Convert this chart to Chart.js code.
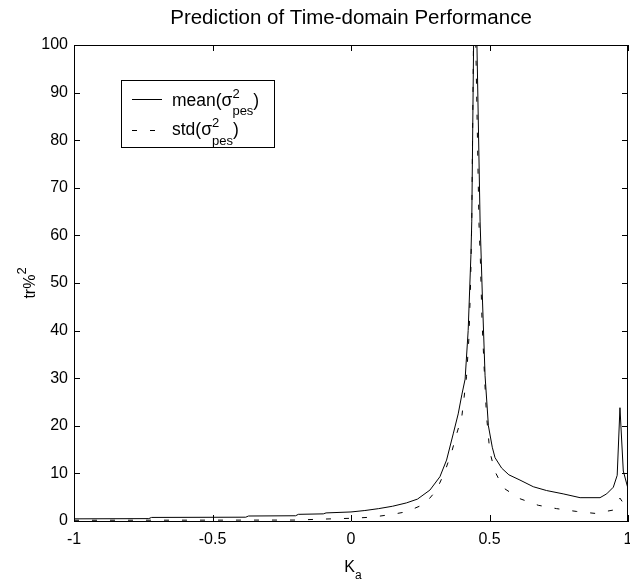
<!DOCTYPE html>
<html>
<head>
<meta charset="utf-8">
<script src="https://cdn.jsdelivr.net/npm/chart.js@4.4.0/dist/chart.umd.min.js"></script>
<style>
  html, body { margin: 0; padding: 0; background: #fff; }
  #wrap { width: 630px; height: 584px; }
</style>
</head>
<body>
<div id="wrap"><canvas id="chart" width="630" height="584"></canvas></div>
<script>
// values
const kMean = [-1, -0.73, -0.72, -0.38, -0.37, -0.2, -0.19, -0.1, -0.09, 0, 0.05, 0.1, 0.15, 0.2, 0.24, 0.285, 0.321, 0.345, 0.369, 0.387, 0.40, 0.412, 0.423, 0.433, 0.436, 0.447, 0.466, 0.475, 0.484, 0.496, 0.51, 0.52, 0.544, 0.57, 0.61, 0.658, 0.706, 0.766, 0.827, 0.899, 0.923, 0.947, 0.961, 0.971, 0.983, 1.0];
const meanVals = [0.45, 0.5, 0.75, 0.8, 1.05, 1.1, 1.4, 1.5, 1.7, 1.9, 2.2, 2.6, 3.1, 3.8, 4.6, 6.5, 9.3, 12.8, 18.3, 22.5, 26.5, 29.8, 40, 56, 63, 125, 63, 45.8, 30.5, 20, 15.5, 13.3, 11.1, 9.7, 8.6, 7.2, 6.4, 5.7, 4.9, 4.9, 5.7, 7.1, 9.6, 23.8, 10.5, 6.8];

const kStd = [-1, -0.2, -0.1, 0, 0.069, 0.1, 0.15, 0.201, 0.267, 0.309, 0.339, 0.364, 0.382, 0.40, 0.417, 0.426, 0.432, 0.436, 0.445, 0.462, 0.467, 0.473, 0.483, 0.489, 0.501, 0.519, 0.549, 0.609, 0.676, 0.742, 0.815, 0.881, 0.947, 0.971, 0.986, 1.0];
const stdVals = [0.15, 0.2, 0.4, 0.57, 0.78, 1.0, 1.4, 1.95, 3.6, 6.5, 10.4, 14.6, 18.4, 21.9, 30.3, 38.7, 50.6, 63.2, 118, 62.5, 55, 42, 29.3, 22.3, 14.6, 10.5, 7.0, 4.7, 3.3, 2.6, 2.0, 1.6, 2.3, 4.8, 3.5, 2.5];

const xTicks = [-1, -0.5, 0, 0.5, 1];
const yTicks = [0, 10, 20, 30, 40, 50, 60, 70, 80, 90, 100];

const FONT = '"Liberation Sans", Arial, sans-serif';

// text with super/subscript pieces (sup and sub stacked at the same x)
function richText(ctx, x, y, parts, size, small, supUp, subDown) {
  let cx = x;
  for (const p of parts) {
    if (p.sup !== undefined || p.sub !== undefined) {
      ctx.font = small + 'px ' + FONT;
      let w = 0;
      if (p.sup !== undefined) {
        ctx.fillText(p.sup, cx, y - supUp);
        w = Math.max(w, ctx.measureText(p.sup).width);
      }
      if (p.sub !== undefined) {
        ctx.fillText(p.sub, cx, y + subDown);
        w = Math.max(w, ctx.measureText(p.sub).width);
      }
      cx += w;
    } else {
      ctx.font = size + 'px ' + FONT;
      ctx.fillText(p.t, cx, y);
      cx += ctx.measureText(p.t).width;
    }
  }
  return cx;
}

function richWidth(ctx, parts, size, small) {
  let w = 0;
  for (const p of parts) {
    if (p.sup !== undefined || p.sub !== undefined) {
      ctx.font = small + 'px ' + FONT;
      w += Math.max(p.sup ? ctx.measureText(p.sup).width : 0, p.sub ? ctx.measureText(p.sub).width : 0);
    } else {
      ctx.font = size + 'px ' + FONT;
      w += ctx.measureText(p.t).width;
    }
  }
  return w;
}

const matlabFrame = {
  id: 'matlabFrame',
  afterDraw(chart) {
    const ctx = chart.ctx;
    const a = chart.chartArea;
    const xs = chart.scales.x, ys = chart.scales.y;
    ctx.save();
    ctx.strokeStyle = '#000';
    ctx.fillStyle = '#000';
    ctx.lineWidth = 1;

    // box
    ctx.beginPath();
    ctx.moveTo(a.left, a.top + 0.5);
    ctx.lineTo(a.right, a.top + 0.5);
    ctx.moveTo(a.right - 0.5, a.top);
    ctx.lineTo(a.right - 0.5, a.bottom);
    ctx.stroke();

    // inward ticks on all sides
    const tl = 6;
    ctx.beginPath();
    xTicks.forEach(v => {
      const px = Math.round(xs.getPixelForValue(v)) + 0.5;
      ctx.moveTo(px, a.bottom); ctx.lineTo(px, a.bottom - tl);
      ctx.moveTo(px, a.top); ctx.lineTo(px, a.top + tl);
    });
    yTicks.forEach(v => {
      const py = Math.round(ys.getPixelForValue(v)) + 0.5;
      ctx.moveTo(a.left, py); ctx.lineTo(a.left + tl, py);
      ctx.moveTo(a.right, py); ctx.lineTo(a.right - tl, py);
    });
    ctx.stroke();

    // title
    ctx.textBaseline = 'alphabetic';
    ctx.textAlign = 'center';
    ctx.font = '20.5px ' + FONT;
    ctx.fillText('Prediction of Time-domain Performance', (a.left + a.right) / 2, 24);

    // x label K_a
    ctx.textAlign = 'left';
    const xl = [{t: 'K'}, {sub: 'a'}];
    const xw = richWidth(ctx, xl, 16, 12);
    richText(ctx, (a.left + a.right) / 2 - xw / 2 + 2, 572, xl, 16, 12, 8, 7);

    // y label tr%^2
    ctx.save();
    ctx.translate(35, (a.top + a.bottom) / 2);
    ctx.rotate(-Math.PI / 2);
    const yl = [{t: 'tr%'}, {sup: '2'}];
    const yw = richWidth(ctx, yl, 16, 13);
    richText(ctx, -yw / 2, 0, yl, 16, 13, 9, 0);
    ctx.restore();

    // legend
    const lx = 121.5, ly = 80.5, lw = 153, lh = 67;
    ctx.fillStyle = '#fff';
    ctx.fillRect(lx, ly, lw, lh);
    ctx.strokeRect(lx, ly, lw, lh);
    ctx.fillStyle = '#000';
    ctx.beginPath();
    ctx.moveTo(132, 99.5); ctx.lineTo(162, 99.5);
    ctx.stroke();
    ctx.setLineDash([5, 13]);
    ctx.beginPath();
    ctx.moveTo(132, 130.5); ctx.lineTo(162, 130.5);
    ctx.stroke();
    ctx.setLineDash([]);
    richText(ctx, 172, 106, [{t: 'mean(\u03c3'}, {sup: '2', sub: 'pes'}, {t: ')'}], 17.5, 13, 8.5, 9);
    richText(ctx, 172, 135, [{t: 'std(\u03c3'}, {sup: '2', sub: 'pes'}, {t: ')'}], 17.5, 13, 8, 10);

    ctx.restore();
  }
};

const toPts = (xs, ys) => xs.map((x, i) => ({x: x, y: ys[i]}));

new Chart(document.getElementById('chart'), {
  type: 'line',
  data: {
    datasets: [{
      label: 'mean',
      data: toPts(kMean, meanVals),
      borderColor: '#000',
      borderWidth: 1,
      pointRadius: 0,
      tension: 0,
      fill: false
    }, {
      label: 'std',
      data: toPts(kStd, stdVals),
      borderColor: '#000',
      borderWidth: 1,
      borderDash: [5, 13],
      pointRadius: 0,
      tension: 0,
      fill: false
    }]
  },
  options: {
    responsive: false,
    animation: false,
    devicePixelRatio: 1,
    layout: {padding: {top: 45, right: 2, left: 0, bottom: 0}},
    plugins: {legend: {display: false}, tooltip: {enabled: false}, title: {display: false}},
    scales: {
      x: {
        type: 'linear', min: -1, max: 1,
        afterBuildTicks: s => { s.ticks = xTicks.map(v => ({value: v})); },
        afterFit: s => { s.height = 63; s.paddingLeft = 0; s.paddingRight = 0; },
        grid: {drawOnChartArea: false, drawTicks: false},
        border: {display: true, color: '#000', width: 1},
        ticks: {
          padding: 9, color: '#000', maxRotation: 0, autoSkip: false,
          font: {family: FONT, size: 16},
          callback: v => String(v)
        }
      },
      y: {
        type: 'linear', min: 0, max: 100,
        afterBuildTicks: s => { s.ticks = yTicks.map(v => ({value: v})); },
        afterFit: s => { s.width = 74; },
        grid: {drawOnChartArea: false, drawTicks: false},
        border: {display: true, color: '#000', width: 1},
        ticks: {
          padding: 6, color: '#000',
          font: {family: FONT, size: 16},
          callback: v => String(v)
        }
      }
    }
  },
  plugins: [matlabFrame]
});
</script>
</body>
</html>
